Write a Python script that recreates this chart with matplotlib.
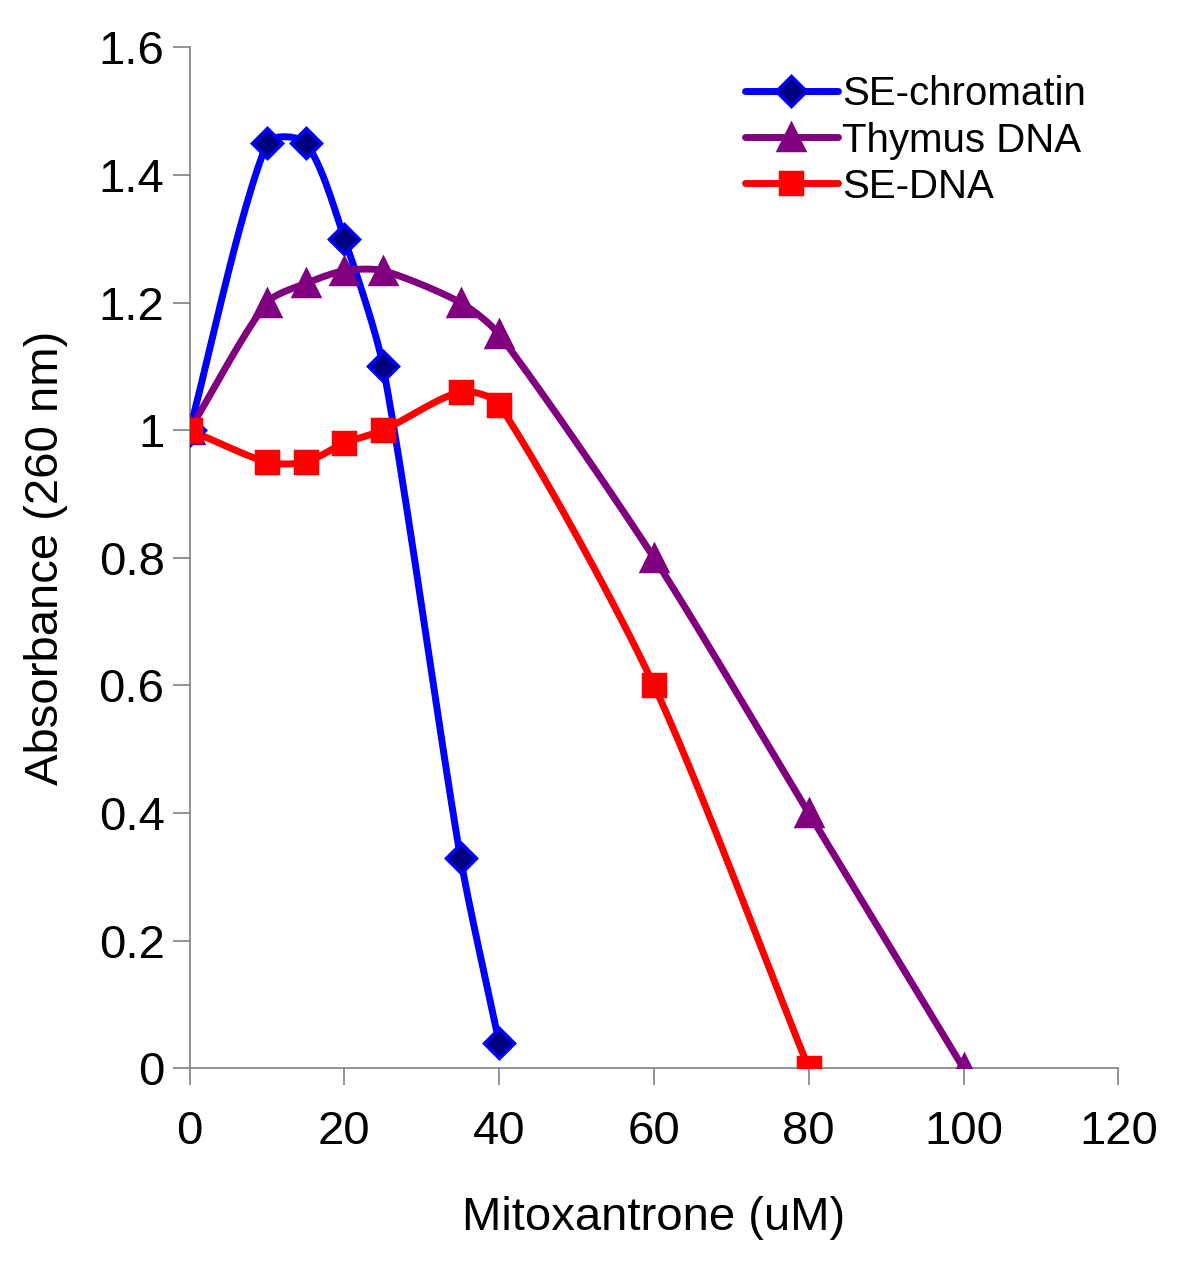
import numpy as np
import matplotlib
matplotlib.use("Agg")
import matplotlib.pyplot as plt

plt.rcParams['font.family'] = ['Liberation Sans', 'DejaVu Sans']

# data
x_chrom = [0, 10, 15, 20, 25, 35, 40]
y_chrom = [1.0, 1.45, 1.45, 1.30, 1.10, 0.33, 0.04]
x_thymus = [0, 10, 15, 20, 25, 35, 40, 60, 80, 100]
y_thymus = [1.0, 1.2, 1.23, 1.25, 1.25, 1.2, 1.15, 0.8, 0.4, 0.0]
x_sedna = [0, 10, 15, 20, 25, 35, 40, 60, 80]
y_sedna = [1.0, 0.95, 0.95, 0.98, 1.0, 1.06, 1.04, 0.6, 0.0]

xticks = [0, 20, 40, 60, 80, 100, 120]
yticks = [0, 0.2, 0.4, 0.6, 0.8, 1.0, 1.2, 1.4, 1.6]
ylabels = ['0', '0.2', '0.4', '0.6', '0.8', '1', '1.2', '1.4', '1.6']

# pixel scale of the plot area, so the smoothing works in screen space
SX, SY = 928 / 120, 1021 / 1.6


def smooth(x, y, n=30, k=0.38):
    # excel-like smoothed line: bezier segments, tangents scaled by segment length
    P = np.column_stack([np.asarray(x, float) * SX, np.asarray(y, float) * SY])
    P = np.vstack([P[0], P, P[-1]])
    t = np.linspace(0, 1, n)[:, None]
    out = []
    for i in range(1, len(P) - 2):
        p0, p3 = P[i], P[i + 1]
        d = np.linalg.norm(p3 - p0)
        t0 = P[i + 1] - P[i - 1]
        t1 = P[i + 2] - P[i]
        n0 = np.linalg.norm(t0) or 1
        n1 = np.linalg.norm(t1) or 1
        p1 = p0 + t0 / n0 * d * k / 1.5
        p2 = p3 - t1 / n1 * d * k / 1.5
        b = (1 - t) ** 3 * p0 + 3 * (1 - t) ** 2 * t * p1 + 3 * (1 - t) * t ** 2 * p2 + t ** 3 * p3
        out.append(b)
    b = np.vstack(out)
    return b[:, 0] / SX, b[:, 1] / SY


fig = plt.figure(figsize=(12, 12.78), dpi=100)
ax = fig.add_axes([0.158, 0.164, 0.774, 0.799])

series = [
    (x_chrom, y_chrom, 'SE-chromatin', '#0000ff', 'D', '#000080', 15),
    (x_thymus, y_thymus, 'Thymus DNA', '#800080', '^', '#800080', 19),
    (x_sedna, y_sedna, 'SE-DNA', '#ff0000', 's', '#ff0000', 16),
]
handles = []
for xv, yv, name, col, mk, fc, ms in series:
    sx, sy = smooth(xv, yv)
    ax.plot(sx, sy, color=col, lw=5, solid_capstyle='round', solid_joinstyle='round', zorder=2)
    ax.plot(xv, yv, ls='none', marker=mk, ms=ms, mfc=fc, mec=col, mew=2.5, zorder=3)
    h, = ax.plot([], [], color=col, lw=5, marker=mk, ms=ms, mfc=fc, mec=col, mew=2.5,
                 solid_capstyle='round')
    handles.append(h)

ax.set_xlim(0, 120)
ax.set_ylim(0, 1.6)
ax.set_xticks(xticks)
ax.set_yticks(yticks)
ax.set_yticklabels(ylabels)
for s in ['top', 'right']:
    ax.spines[s].set_visible(False)
for s in ['left', 'bottom']:
    ax.spines[s].set_color('#808080')
    ax.spines[s].set_linewidth(1.2)
ax.tick_params(direction='out', length=12, width=1.2, color='#808080', labelsize=34)
ax.tick_params(axis='y', pad=6)
ax.tick_params(axis='x', pad=18)
ax.set_xlabel('Mitoxantrone (uM)', fontsize=34, labelpad=30)
ax.set_ylabel('Absorbance (260 nm)', fontsize=34, labelpad=22)

ax.legend(handles, [s[2] for s in series], loc='upper right', bbox_to_anchor=(0.995, 1.0),
          frameon=False, fontsize=29, handlelength=2.3, handletextpad=0.1,
          labelspacing=0.2, borderaxespad=0.3)

fig.savefig('out.png', dpi=100)
